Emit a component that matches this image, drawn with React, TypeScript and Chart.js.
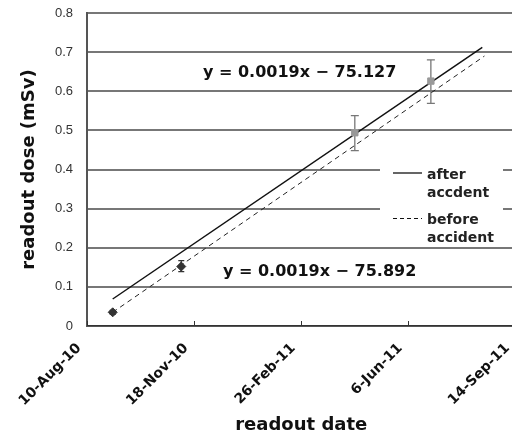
import React, { useEffect, useRef } from "react";
import { Chart, registerables } from "chart.js";

Chart.register(...registerables);

// Excel-style day serials for x
const tickValues = [40400, 40500, 40600, 40700, 40800];
const tickLabels = ["10-Aug-10", "18-Nov-10", "26-Feb-11", "6-Jun-11", "14-Sep-11"];

const beforeDates = [40424, 40488];
const beforeDose = [0.035, 0.152];
const beforeLow = [0.03, 0.139];
const beforeHigh = [0.04, 0.167];

const afterDates = [40650, 40721];
const afterDose = [0.494, 0.626];
const afterLow = [0.448, 0.569];
const afterHigh = [0.5375, 0.68];

const afterFitDates = [40424, 40769];
const afterFitDose = [0.069, 0.712];
const beforeFitDates = [40424, 40771];
const beforeFitDose = [0.035, 0.69];

const eqAfter = "y = 0.0019x − 75.127";
const eqBefore = "y = 0.0019x − 75.892";
const legendAfter = ["after", "accdent"];
const legendBefore = ["before", "accident"];

const boldFont = "DejaVu Sans";

const overlayPlugin = {
  id: "overlay",
  beforeDatasetsDraw(chart: any) {
    const ctx = chart.ctx;
    const xs = chart.scales.x;
    const ys = chart.scales.y;
    const area = chart.chartArea;
    ctx.save();
    ctx.strokeStyle = "#333";
    ctx.lineWidth = 1;
    tickValues.forEach((v) => {
      const px = Math.round(xs.getPixelForValue(v)) + 0.5;
      ctx.beginPath();
      ctx.moveTo(px, area.bottom);
      ctx.lineTo(px, area.bottom - 5);
      ctx.stroke();
    });
    const drawErr = (dates: number[], lo: number[], hi: number[], color: string, cap: number) => {
      ctx.strokeStyle = color;
      ctx.lineWidth = 1.3;
      dates.forEach((d, i) => {
        const px = xs.getPixelForValue(d);
        const y1 = ys.getPixelForValue(lo[i]);
        const y2 = ys.getPixelForValue(hi[i]);
        ctx.beginPath();
        ctx.moveTo(px, y1);
        ctx.lineTo(px, y2);
        ctx.moveTo(px - cap, y1);
        ctx.lineTo(px + cap, y1);
        ctx.moveTo(px - cap, y2);
        ctx.lineTo(px + cap, y2);
        ctx.stroke();
      });
    };
    drawErr(beforeDates, beforeLow, beforeHigh, "#333", 3);
    drawErr(afterDates, afterLow, afterHigh, "#777", 4);
    ctx.restore();
  },
  afterDatasetsDraw(chart: any) {
    const ctx = chart.ctx;
    ctx.save();
    ctx.fillStyle = "#111";
    ctx.font = `bold 16px "${boldFont}"`;
    ctx.textBaseline = "middle";
    ctx.textAlign = "left";
    ctx.fillText(eqAfter, 203, 73);
    ctx.fillText(eqBefore, 223, 272);
    ctx.fillStyle = "#fff";
    ctx.fillRect(380, 160, 123, 85);
    ctx.strokeStyle = "#111";
    ctx.lineWidth = 1.3;
    ctx.beginPath();
    ctx.moveTo(393, 173);
    ctx.lineTo(422, 173);
    ctx.stroke();
    ctx.setLineDash([4, 3]);
    ctx.lineWidth = 1;
    ctx.beginPath();
    ctx.moveTo(393, 218.5);
    ctx.lineTo(422, 218.5);
    ctx.stroke();
    ctx.setLineDash([]);
    ctx.fillStyle = "#222";
    ctx.font = `bold 14px "${boldFont}"`;
    ctx.fillText(legendAfter[0], 427, 175);
    ctx.fillText(legendAfter[1], 427, 193);
    ctx.fillText(legendBefore[0], 427, 220);
    ctx.fillText(legendBefore[1], 427, 238);
    ctx.restore();
  },
};

export default function App() {
  const ref = useRef<HTMLCanvasElement>(null);
  useEffect(() => {
    if (!ref.current) return;
    const chart = new Chart(ref.current, {
      type: "scatter",
      data: {
        datasets: [
          {
            label: "before points",
            data: beforeDates.map((d, i) => ({ x: d, y: beforeDose[i] })),
            pointStyle: "rectRot",
            pointRadius: 4.5,
            backgroundColor: "#333",
            borderColor: "#333",
            showLine: false,
          },
          {
            label: "after points",
            data: afterDates.map((d, i) => ({ x: d, y: afterDose[i] })),
            pointStyle: "rect",
            pointRadius: 4.5,
            backgroundColor: "#999",
            borderColor: "#999",
            showLine: false,
          },
          {
            label: "after accident",
            data: afterFitDates.map((d, i) => ({ x: d, y: afterFitDose[i] })),
            showLine: true,
            borderColor: "#111",
            borderWidth: 1.5,
            pointRadius: 0,
          },
          {
            label: "before accident",
            data: beforeFitDates.map((d, i) => ({ x: d, y: beforeFitDose[i] })),
            showLine: true,
            borderColor: "#222",
            borderWidth: 1,
            borderDash: [5, 4],
            pointRadius: 0,
          },
        ],
      },
      options: {
        animation: false,
        responsive: false,
        maintainAspectRatio: false,
        layout: { padding: { top: 13, left: 0, right: 0, bottom: 0 } },
        plugins: { legend: { display: false }, tooltip: { enabled: false } },
        scales: {
          x: {
            type: "linear",
            min: 40400,
            max: 40800,
            afterBuildTicks: (scale: any) => {
              scale.ticks = tickValues.map((v) => ({ value: v }));
            },
            afterFit: (scale: any) => {
              scale.height = 115;
              scale.paddingRight = 0;
              scale.paddingLeft = 0;
            },
            ticks: {
              autoSkip: false,
              minRotation: 45,
              maxRotation: 45,
              padding: 14,
              labelOffset: -8,
              color: "#111",
              font: { family: boldFont, weight: "bold", size: 14 },
              callback: (v: any) => {
                const i = tickValues.indexOf(Number(v));
                return i >= 0 ? tickLabels[i] : "";
              },
            },
            grid: { display: true, drawOnChartArea: false, drawTicks: false },
            border: { display: true, color: "#333", width: 1.5 },
            title: {
              display: true,
              text: "readout date",
              color: "#111",
              font: { family: boldFont, weight: "bold", size: 18 },
              padding: { top: 0, bottom: 5 },
            },
          },
          y: {
            min: 0,
            max: 0.8,
            afterFit: (scale: any) => {
              scale.width = 87;
              scale.paddingTop = 0;
              scale.paddingBottom = 0;
            },
            ticks: {
              stepSize: 0.1,
              padding: 14,
              color: "#333",
              font: { family: "Liberation Sans", size: 13 },
              callback: (v: any) => (Number(v) === 0 ? "0" : Number(v).toFixed(1)),
            },
            grid: { color: "#777", lineWidth: 2, drawTicks: false },
            border: { display: true, color: "#555", width: 2 },
            title: {
              display: true,
              text: "readout dose (mSv)",
              color: "#111",
              font: { family: boldFont, weight: "bold", size: 18 },
              padding: { top: 19, bottom: 0 },
            },
          },
        },
      },
      plugins: [overlayPlugin],
    } as any);
    return () => chart.destroy();
  }, []);
  return (
    <div style={{ position: "absolute", left: 0, top: 0, width: 512, height: 441, overflow: "hidden", background: "#fff" }}>
      <canvas ref={ref} width={521} height={441} style={{ display: "block" }} />
    </div>
  );
}
